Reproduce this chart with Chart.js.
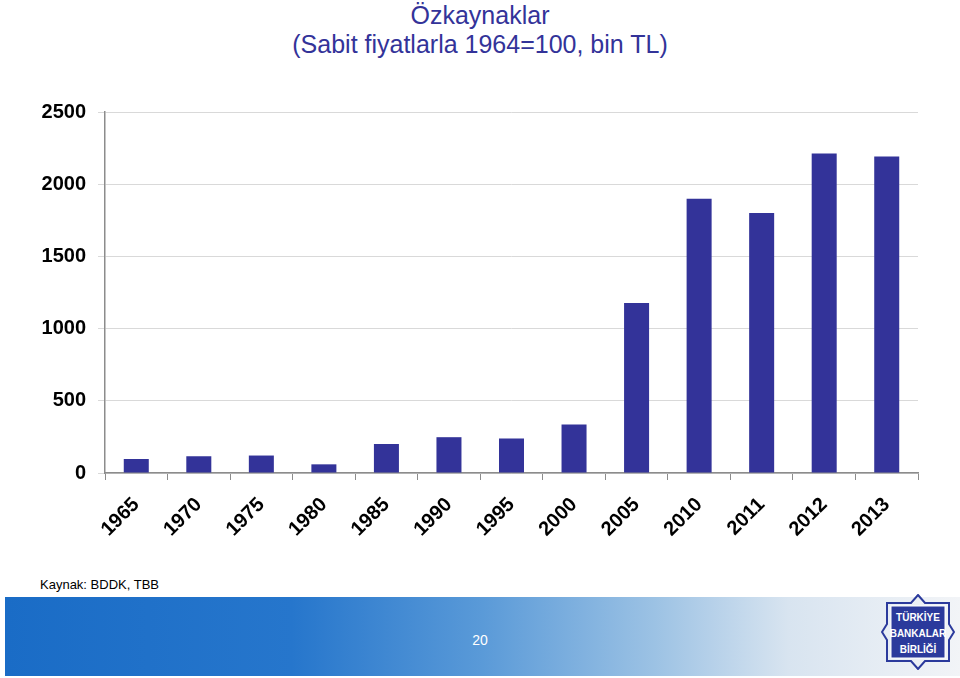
<!DOCTYPE html>
<html><head><meta charset="utf-8">
<script src="https://cdn.jsdelivr.net/npm/chart.js@4/dist/chart.umd.min.js"></script>
<style>
html,body{margin:0;padding:0;background:#fff;width:960px;height:678px;overflow:hidden;font-family:"Liberation Sans",Arial,sans-serif;}
#title{position:absolute;left:0;top:1px;width:960px;text-align:center;color:#333399;font-size:25px;line-height:29px;}
#wrap{position:absolute;left:0;top:0;width:960px;height:560px;}
#src{position:absolute;left:40px;top:577px;font-size:13px;color:#000;}
#band{position:absolute;left:5px;top:597px;width:955px;height:79px;background:linear-gradient(to right,#1a6cc6 0%,#2676cc 30%,#5a9ad8 50%,#9cc2e4 68%,#d8e4f0 82%,#f2f4f7 100%);}
#pg{position:absolute;left:0;width:960px;top:632px;text-align:center;color:#fff;font-size:14px;}
#logo{position:absolute;left:881px;top:594px;width:74px;height:76px;}
</style></head><body>
<div id="title">Özkaynaklar<br>(Sabit fiyatlarla 1964=100, bin TL)</div>
<div id="wrap"><canvas id="c" width="960" height="560"></canvas></div>
<div id="src">Kaynak: BDDK, TBB</div>
<div id="band"></div>
<div id="pg">20</div>
<svg id="logo" viewBox="0 0 74 76">
<polygon points="37,1 44,9 68,9 68,30 73,38 68,46 68,67 44,67 37,75 30,67 6,67 6,46 1,38 6,30 6,9 30,9" fill="none" stroke="#2b3a9c" stroke-width="2"/>
<rect x="10" y="12" width="54" height="52" fill="#2b3a9c" stroke="#fff" stroke-width="1"/>
<text x="37" y="27" text-anchor="middle" fill="#fff" font-size="10" font-family="Liberation Sans Narrow, Liberation Sans" font-weight="bold">TÜRKİYE</text>
<text x="37" y="43" text-anchor="middle" fill="#fff" font-size="10" font-family="Liberation Sans Narrow, Liberation Sans" font-weight="bold">BANKALAR</text>
<text x="37" y="59" text-anchor="middle" fill="#fff" font-size="10" font-family="Liberation Sans Narrow, Liberation Sans" font-weight="bold">BİRLİĞİ</text>
</svg>
<script>
const categories = ["1965","1970","1975","1980","1985","1990","1995","2000","2005","2010","2011","2012","2013"];
const equity = [97,116,121,60,201,248,239,336,1177,1900,1801,2213,2192];
const yTicks = [0,500,1000,1500,2000,2500];

new Chart(document.getElementById('c'), {
  type: 'bar',
  data: { labels: categories, datasets: [{ data: equity, backgroundColor: '#333399', categoryPercentage: 1.0, barPercentage: 0.4 }] },
  options: {
    responsive: false, animation: false,
    layout: { padding: { top: 112, right: 42, left: 0, bottom: 0 } },
    plugins: { legend: { display: false }, tooltip: { enabled: false } },
    scales: {
      x: {
        grid: { display: true, drawOnChartArea: false, drawTicks: true, tickLength: 7, color: '#8c8c8c', offset: true },
        border: { display: true, color: '#8c8c8c', width: 1.5 },
        ticks: { color: '#000', font: { family: 'Liberation Sans', size: 20, weight: 'bold' }, minRotation: 45, maxRotation: 45, padding: 13 },
        afterFit: s => { s.height = 87; }
      },
      y: {
        min: 0, max: 2500,
        afterBuildTicks: s => { s.ticks = yTicks.map(v => ({ value: v })); },
        grid: { color: '#d9d9d9', drawTicks: true, tickLength: 7, lineWidth: 1 },
        border: { display: true, color: '#8c8c8c', width: 1.5 },
        ticks: { color: '#000', font: { family: 'Liberation Sans', size: 20, weight: 'bold' }, padding: 12, callback: v => String(v) },
        afterFit: s => { s.width = 105; }
      }
    }
  }
});
</script>
</body></html>
